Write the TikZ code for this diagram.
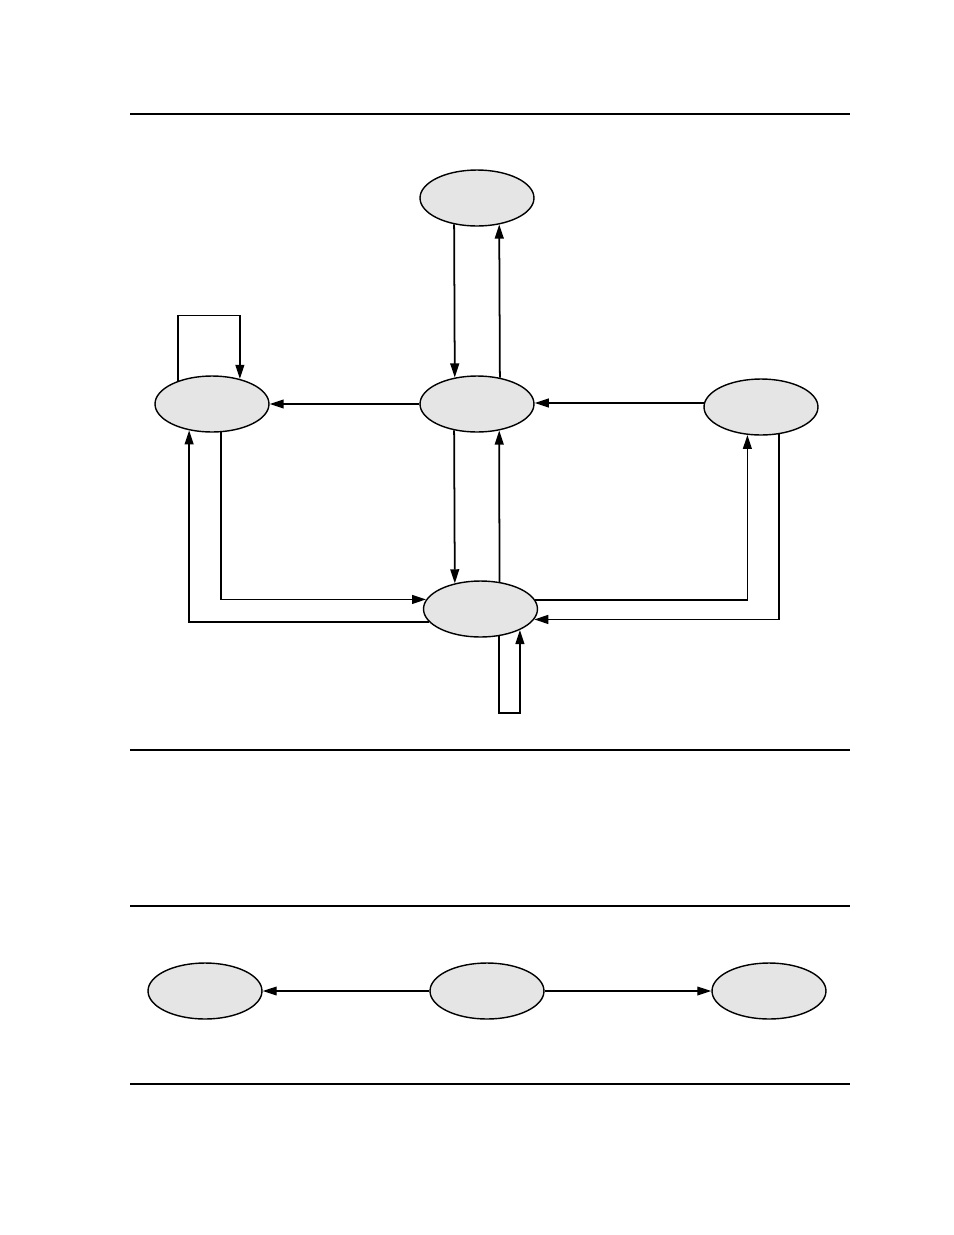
\documentclass[tikz,border=0pt]{standalone}
\usepackage{xcolor}
\usepackage{tikz}
\usetikzlibrary{arrows.meta,shapes.geometric}

\definecolor{nodegray}{gray}{0.9}

\begin{document}
\begin{tikzpicture}[x=0.02cm, y=-0.02cm,
    state/.style={ellipse, draw, line width=0.8pt, fill=nodegray,
      minimum width=2.28cm, minimum height=1.12cm, inner sep=0pt},
    arr/.style={line width=1pt, -{Triangle[length=8pt,width=5pt]}},
    thinarr/.style={line width=0.7pt, -{Triangle[length=8pt,width=5pt]}},
    rulethick/.style={line width=1.2pt},
    rulethin/.style={line width=0.6pt}]
  \useasboundingbox (0,0) rectangle (954,1235);

  % Rules
  \draw[rulethick] (130,114) -- (850,114);
  \draw[rulethin] (130,750) -- (850,750);
  \draw[rulethick] (130,906) -- (850,906);
  \draw[rulethin] (130,1084) -- (850,1084);

  % Upper diagram states
  \node[state] (ntop) at (477,198) {};
  \node[state] (nmid) at (477,404) {};
  \node[state] (nleft) at (212,404) {};
  \node[state] (nright) at (761,407) {};
  \node[state] (nbot) at (480.5,609) {};

  % Top <-> middle
  \draw[arr] (ntop.229.6) -- (nmid.130.4);
  \draw[arr] (nmid.49.6) -- (ntop.310.4);

  % Horizontal arrows into and out of middle
  \draw[arr] (nmid.west) -- (nleft.east);
  \draw[arr] (nright.176.5) -- (nright.176.5 -| nmid.east);

  % Middle <-> bottom
  \draw[arr] (nmid.229.6) -- (nbot.135.5);
  \draw[arr] (nbot.55.1) -- (nmid.310.4);

  % Left self loop
  \draw[arr] (nleft.146.5) -- ++(0,-65.5) -| (nleft.42.4);

  % Left <-> bottom
  \draw[arr] (nleft.288) |- (nbot.170.5);
  \draw[arr] (nbot.194.4) -| (nleft.229.6);

  % Right <-> bottom
  \draw[arr] (nbot.9.5) -| (nright.244.5);
  \draw[arr] (nright.304.1) |- (nbot.349.4);

  % Bottom self loop
  \draw[arr] (nbot.304.9) -- ++(0,76.5) -| (nbot.332.9);

  % Lower diagram states
  \node[state] (rleft) at (205,991) {};
  \node[state] (rmid) at (487,991) {};
  \node[state] (rright) at (769,991) {};

  \draw[thinarr] (rmid.west) -- (rleft.east);
  \draw[thinarr] (rmid.east) -- (rright.west);
\end{tikzpicture}
\end{document}
